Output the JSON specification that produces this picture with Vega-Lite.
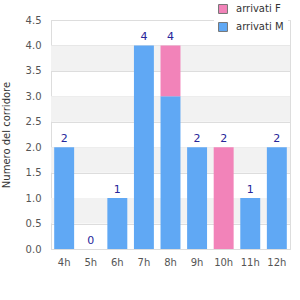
{
  "$schema": "https://vega.github.io/schema/vega-lite/v6.json",
  "autosize": "none",
  "width": 239,
  "height": 229,
  "padding": {"left": 51, "top": 20, "right": 10, "bottom": 51},
  "background": "white",
  "config": {
    "font": "DejaVu Sans",
    "view": {"stroke": "#dddddd", "strokeWidth": 1},
    "axis": {"labelFont": "DejaVu Sans", "titleFont": "DejaVu Sans"}
  },
  "datasets": {
    "arrivi": [
      {"ora": "4h", "sesso": "arrivati M", "n": 2},
      {"ora": "4h", "sesso": "arrivati F", "n": 0},
      {"ora": "5h", "sesso": "arrivati M", "n": 0},
      {"ora": "5h", "sesso": "arrivati F", "n": 0},
      {"ora": "6h", "sesso": "arrivati M", "n": 1},
      {"ora": "6h", "sesso": "arrivati F", "n": 0},
      {"ora": "7h", "sesso": "arrivati M", "n": 4},
      {"ora": "7h", "sesso": "arrivati F", "n": 0},
      {"ora": "8h", "sesso": "arrivati M", "n": 3},
      {"ora": "8h", "sesso": "arrivati F", "n": 1},
      {"ora": "9h", "sesso": "arrivati M", "n": 2},
      {"ora": "9h", "sesso": "arrivati F", "n": 0},
      {"ora": "10h", "sesso": "arrivati M", "n": 0},
      {"ora": "10h", "sesso": "arrivati F", "n": 2},
      {"ora": "11h", "sesso": "arrivati M", "n": 1},
      {"ora": "11h", "sesso": "arrivati F", "n": 0},
      {"ora": "12h", "sesso": "arrivati M", "n": 2},
      {"ora": "12h", "sesso": "arrivati F", "n": 0}
    ],
    "fasce": [
      {"da": 0.5, "a": 1.0},
      {"da": 1.5, "a": 2.0},
      {"da": 2.5, "a": 3.0},
      {"da": 3.5, "a": 4.0}
    ]
  },
  "layer": [
    {
      "data": {"name": "fasce"},
      "mark": {"type": "rect", "fill": "#f2f2f2"},
      "encoding": {
        "y": {
          "field": "da", "type": "quantitative",
          "scale": {"domain": [0, 4.5], "nice": false},
          "axis": {
            "title": "Numero del corridore", "titleFontSize": 10,
            "titleFontWeight": "normal", "titleColor": "#333333",
            "values": [0, 0.5, 1, 1.5, 2, 2.5, 3, 3.5, 4, 4.5],
            "labelOverlap": false, "tickCount": 10,
            "format": ".1f", "ticks": false, "domainColor": "#dddddd",
            "gridColor": "#dddddd", "labelColor": "#555555",
            "labelFontSize": 10, "labelPadding": 10, "titlePadding": 14
          }
        },
        "y2": {"field": "a"}
      }
    },
    {
      "data": {"name": "arrivi"},
      "mark": {"type": "bar"},
      "encoding": {
        "x": {
          "field": "ora", "type": "nominal", "sort": null,
          "scale": {"paddingInner": 0.25, "paddingOuter": 0.12},
          "axis": {
            "title": null, "labelAngle": 0, "ticks": false,
            "domainColor": "#dddddd", "labelColor": "#555555",
            "labelFontSize": 10, "labelPadding": 8
          }
        },
        "y": {
          "field": "n", "type": "quantitative", "stack": "zero",
          "scale": {"domain": [0, 4.5], "nice": false},
          "axis": {
            "title": "Numero del corridore", "titleFontSize": 10,
            "titleFontWeight": "normal", "titleColor": "#333333",
            "values": [0, 0.5, 1, 1.5, 2, 2.5, 3, 3.5, 4, 4.5],
            "labelOverlap": false, "tickCount": 10,
            "format": ".1f", "ticks": false, "domainColor": "#dddddd",
            "gridColor": "#dddddd", "labelColor": "#555555",
            "labelFontSize": 10, "labelPadding": 10, "titlePadding": 14
          }
        },
        "color": {
          "field": "sesso", "type": "nominal",
          "scale": {"domain": ["arrivati F", "arrivati M"], "range": ["#f283b9", "#60a8f4"]},
          "legend": {
            "title": null, "orient": "none", "legendX": 163, "legendY": -20,
            "symbolType": "square", "symbolSize": 80, "symbolStrokeColor": "#777777",
            "symbolStrokeWidth": 1, "labelFontSize": 10, "labelColor": "#333333",
            "fillColor": "white", "padding": 4, "rowPadding": 4, "labelOffset": 8
          }
        },
        "order": {"field": "sesso", "sort": "descending"}
      }
    },
    {
      "data": {"name": "arrivi"},
      "transform": [{"aggregate": [{"op": "sum", "field": "n", "as": "totale"}], "groupby": ["ora"]}],
      "mark": {"type": "text", "baseline": "bottom", "dy": -3, "fontSize": 11, "color": "#26269a"},
      "encoding": {
        "x": {"field": "ora", "type": "nominal", "sort": null},
        "y": {"field": "totale", "type": "quantitative"},
        "text": {"field": "totale", "type": "quantitative"}
      }
    }
  ]
}
